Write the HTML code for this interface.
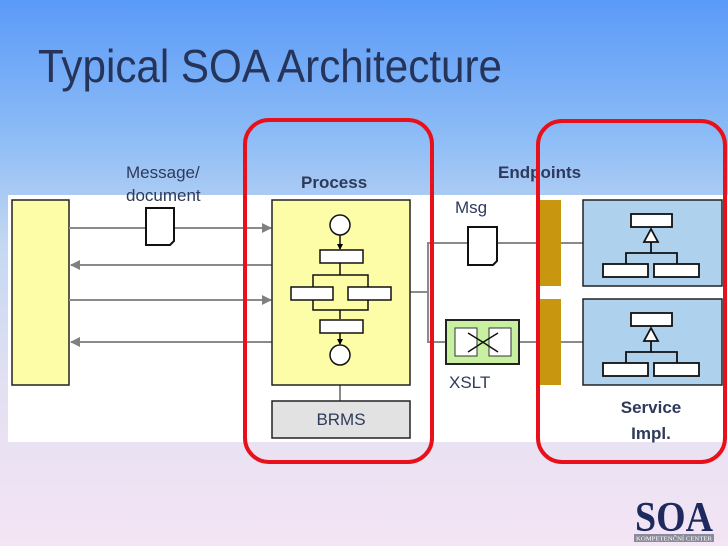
<!DOCTYPE html>
<html><head><style>
html,body{margin:0;padding:0;}
body{width:728px;height:546px;overflow:hidden;background:linear-gradient(180deg,#5a9af8 0%,#8dbcf6 25%,#c4d8f2 45%,#e2e0f2 70%,#f4e4f4 100%);}
svg{display:block}
text{font-family:"Liberation Sans",Arial,sans-serif;}
</style></head><body>
<svg width="728" height="546" viewBox="0 0 728 546" xmlns="http://www.w3.org/2000/svg">
<defs>
<marker id="ar" markerWidth="10" markerHeight="10" refX="9" refY="5" orient="auto" markerUnits="userSpaceOnUse"><path d="M0,0 L10,5 L0,10 z" fill="#808080"/></marker>
<marker id="sa" markerWidth="6" markerHeight="6" refX="5" refY="3" orient="auto" markerUnits="userSpaceOnUse"><path d="M0,0 L6,3 L0,6 z" fill="#000"/></marker>
</defs>
<text x="38" y="82" font-size="46" fill="#26345a" textLength="464" lengthAdjust="spacingAndGlyphs">Typical SOA Architecture</text>
<rect x="8" y="195" width="720" height="247" fill="#ffffff"/>
<text x="126" y="178" font-size="17" fill="#2f3a5a">Message/</text>
<text x="126" y="201" font-size="17" fill="#2f3a5a">document</text>
<text x="301" y="188" font-size="17" font-weight="bold" fill="#2f3a5a">Process</text>
<text x="498" y="178" font-size="17" font-weight="bold" fill="#2f3a5a">Endpoints</text>
<rect x="12" y="200" width="57" height="185" fill="#fdfda8" stroke="#222" stroke-width="1.5"/>
<g stroke="#8a8a8a" stroke-width="2" fill="none">
<line x1="69" y1="228" x2="271" y2="228" marker-end="url(#ar)"/>
<line x1="272" y1="265" x2="71" y2="265" marker-end="url(#ar)"/>
<line x1="69" y1="300" x2="271" y2="300" marker-end="url(#ar)"/>
<line x1="272" y1="342" x2="71" y2="342" marker-end="url(#ar)"/>
<line x1="340" y1="385" x2="340" y2="401"/>
<polyline points="410,292 428,292"/>
<polyline points="540,243 428,243 428,342 540,342"/>
<line x1="561" y1="243" x2="583" y2="243"/>
<line x1="561" y1="342" x2="583" y2="342"/>
</g>
<path d="M146,208 H174 V241 L170,245 H146 Z" fill="#fff" stroke="#111" stroke-width="2"/>
<path d="M468,227 H497 V261 L493,265 H468 Z" fill="#fff" stroke="#111" stroke-width="2"/>
<rect x="272" y="200" width="138" height="185" fill="#fdfda8" stroke="#222" stroke-width="1.5"/>
<g stroke="#111" stroke-width="1.5" fill="#fff">
<circle cx="340" cy="225" r="10"/>
<line x1="340" y1="235" x2="340" y2="249" marker-end="url(#sa)"/>
<rect x="320" y="250" width="43" height="13"/>
<line x1="340" y1="263" x2="340" y2="275"/>
<polyline points="313,287 313,275 368,275 368,287" fill="none"/>
<rect x="291" y="287" width="42" height="13"/>
<rect x="348" y="287" width="43" height="13"/>
<polyline points="313,300 313,310 368,310 368,300" fill="none"/>
<line x1="340" y1="310" x2="340" y2="319"/>
<rect x="320" y="320" width="43" height="13"/>
<line x1="340" y1="333" x2="340" y2="344" marker-end="url(#sa)"/>
<circle cx="340" cy="355" r="10"/>
</g>
<rect x="272" y="401" width="138" height="37" fill="#e2e2e2" stroke="#222" stroke-width="1.5"/>
<text x="341" y="425" font-size="17" fill="#2f3a5a" text-anchor="middle">BRMS</text>
<text x="455" y="213" font-size="17" fill="#2f3a5a">Msg</text>
<rect x="446" y="320" width="73" height="44" fill="#c8f0a0" stroke="#222" stroke-width="2"/>
<rect x="455" y="328" width="22" height="28" fill="#fff" stroke="#333" stroke-width="1"/>
<rect x="489" y="328" width="22" height="28" fill="#fff" stroke="#333" stroke-width="1"/>
<path d="M468,333 Q483,342 498,352 M468,352 Q483,342 498,333" stroke="#111" stroke-width="1.5" fill="none"/>
<text x="449" y="388" font-size="17" fill="#2f3a5a">XSLT</text>
<rect x="538" y="200" width="23" height="86" fill="#c8960f"/>
<rect x="538" y="299" width="23" height="86" fill="#c8960f"/>
<rect x="583" y="200" width="139" height="86" fill="#aed2ee" stroke="#222" stroke-width="1.5"/>
<rect x="583" y="299" width="139" height="86" fill="#aed2ee" stroke="#222" stroke-width="1.5"/>
<g stroke="#111" stroke-width="1.8" fill="#fff">
<rect x="631" y="214" width="41" height="13"/>
<path d="M651,229 L644,242 L658,242 Z"/>
<polyline points="651,242 651,253 626,253 626,264" fill="none"/><polyline points="651,253 677,253 677,264" fill="none"/>
<rect x="603" y="264" width="45" height="13"/>
<rect x="654" y="264" width="45" height="13"/>
<rect x="631" y="313" width="41" height="13"/>
<path d="M651,328 L644,341 L658,341 Z"/>
<polyline points="651,341 651,352 626,352 626,363" fill="none"/><polyline points="651,352 677,352 677,363" fill="none"/>
<rect x="603" y="363" width="45" height="13"/>
<rect x="654" y="363" width="45" height="13"/>
</g>
<text x="651" y="413" font-size="17" font-weight="bold" fill="#2f3a5a" text-anchor="middle">Service</text>
<text x="651" y="439" font-size="17" font-weight="bold" fill="#2f3a5a" text-anchor="middle">Impl.</text>
<rect x="245" y="120" width="187" height="342" rx="24" fill="none" stroke="#e8101a" stroke-width="4"/>
<rect x="538" y="121" width="187" height="341" rx="24" fill="none" stroke="#e8101a" stroke-width="4"/>
<text x="674" y="531" font-size="42" font-weight="bold" fill="#1e2a5e" text-anchor="middle" textLength="78" lengthAdjust="spacingAndGlyphs" style="font-family:'Liberation Serif',serif">SOA</text>
<rect x="634" y="534" width="80" height="8" fill="#8a8a9a"/>
<text x="674" y="540.5" font-size="6" fill="#fff" text-anchor="middle" textLength="76" lengthAdjust="spacingAndGlyphs" style="font-family:'Liberation Serif',serif">KOMPETENČNÍ CENTER</text>
</svg>
</body></html>
